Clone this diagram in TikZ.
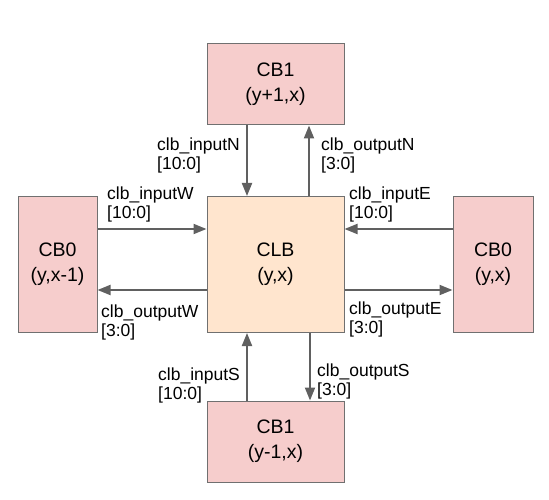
\documentclass[tikz,border=0pt]{standalone}
\usepackage{fontspec}
\setmainfont{Liberation Sans}
\usetikzlibrary{arrows.meta}
\definecolor{cbfill}{HTML}{F6CDCC}
\definecolor{clbfill}{HTML}{FFE5CE}
\definecolor{boxline}{HTML}{707070}
\definecolor{arrowc}{HTML}{606060}
\tikzset{
  blk/.style={draw=boxline, line width=1pt, inner sep=0pt, align=center,
    font=\fontsize{19.5}{25}\selectfont},
  cbbox/.style={blk, fill=cbfill},
  clbbox/.style={blk, fill=clbfill},
  conn/.style={draw=arrowc, line width=2pt, -{Triangle[length=13pt,width=10pt]}},
  elabel/.style={anchor=base west, inner sep=0pt, align=left,
    font=\fontsize{17.5}{19}\selectfont}
}
\begin{document}
\begin{tikzpicture}[x=1pt,y=-1pt]
\useasboundingbox (0,0) rectangle (549,500);
\node[cbbox, minimum width=137pt, minimum height=81pt] (top) at (275.5,84.5) {CB1\\(y+1,x)};
\node[clbbox, minimum width=137pt, minimum height=136pt] (clb) at (275.5,264.5) {CLB\\(y,x)};
\node[cbbox, minimum width=79pt, minimum height=136pt] (left) at (57.5,264.5) {CB0\\(y,x-1)};
\node[cbbox, minimum width=80pt, minimum height=136pt] (right) at (493,264.5) {CB0\\(y,x)};
\node[cbbox, minimum width=137pt, minimum height=81pt] (bot) at (275.5,441.5) {CB1\\(y-1,x)};
\coordinate (xin) at (247,0);
\coordinate (xoutN) at (309,0);
\coordinate (xoutS) at (310,0);
\coordinate (yin) at (0,229);
\coordinate (yout) at (0,290);
\draw[conn] (top.south -| xin) -- (clb.north -| xin);
\draw[conn] (clb.north -| xoutN) -- (top.south -| xoutN);
\draw[conn] (left.east |- yin) -- (clb.west |- yin);
\draw[conn] (clb.west |- yout) -- (left.east |- yout);
\draw[conn] (right.west |- yin) -- (clb.east |- yin);
\draw[conn] (clb.east |- yout) -- (right.west |- yout);
\draw[conn] (bot.north -| xin) -- (clb.south -| xin);
\draw[conn] (clb.south -| xoutS) -- (bot.north -| xoutS);
\node[elabel] (linN) at (157,170) {clb\_inputN\\{}[10:0]};
\node[elabel] (loutN) at (321,170) {clb\_outputN\\{}[3:0]};
\node[elabel] (linW) at (107,218) {clb\_inputW\\{}[10:0]};
\node[elabel] (linE) at (349,218) {clb\_inputE\\{}[10:0]};
\node[elabel] (loutW) at (101,336) {clb\_outputW\\{}[3:0]};
\node[elabel] (loutE) at (349,333) {clb\_outputE\\{}[3:0]};
\node[elabel] (linS) at (158,399) {clb\_inputS\\{}[10:0]};
\node[elabel] (loutS) at (317,395) {clb\_outputS\\{}[3:0]};
\end{tikzpicture}
\end{document}
